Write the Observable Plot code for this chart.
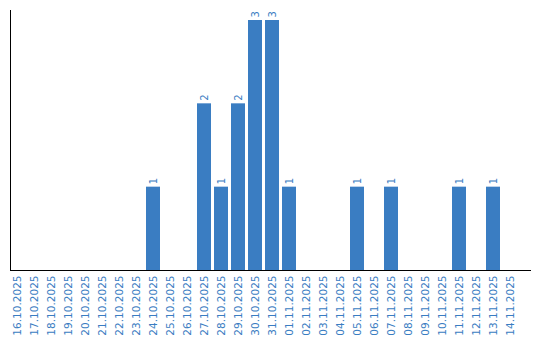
<!DOCTYPE html>
<html>
<head>
<meta charset="utf-8">
<script src="https://cdn.jsdelivr.net/npm/d3@7"></script>
<script src="https://cdn.jsdelivr.net/npm/@observablehq/plot@0.6"></script>
<style>
  html, body { margin: 0; padding: 0; background: #fff; }
  #chart svg { display: block; }
</style>
</head>
<body>
<div id="chart"></div>
<script>
const dates = ["16.10.2025","17.10.2025","18.10.2025","19.10.2025","20.10.2025","21.10.2025","22.10.2025","23.10.2025","24.10.2025","25.10.2025","26.10.2025","27.10.2025","28.10.2025","29.10.2025","30.10.2025","31.10.2025","01.11.2025","02.11.2025","03.11.2025","04.11.2025","05.11.2025","06.11.2025","07.11.2025","08.11.2025","09.11.2025","10.11.2025","11.11.2025","12.11.2025","13.11.2025","14.11.2025"];
const counts = [0,0,0,0,0,0,0,0,1,0,0,2,1,2,3,3,1,0,0,0,1,0,1,0,0,0,1,0,1,0];

const data = dates.map((d, i) => ({date: d, count: counts[i]}));
const nonzero = data.filter(d => d.count > 0);
const blue = "#3a7dc2";

const chart = Plot.plot({
  width: 540,
  height: 340,
  marginTop: 10,
  marginLeft: 10,
  marginRight: 9,
  marginBottom: 70,
  style: {fontFamily: "DejaVu Sans, sans-serif", fontSize: "10px", background: "#fff"},
  x: {type: "band", domain: dates, range: [10, 517], paddingInner: 3/17, paddingOuter: 0, align: 0, axis: null},
  y: {domain: [0, 3.12], axis: null},
  marks: [
    Plot.barY(nonzero, {x: "date", y: "count", fill: blue}),
    Plot.text(nonzero, {x: "date", y: "count", text: d => String(d.count), rotate: -90, textAnchor: "start", dy: -3, fill: blue, fontSize: 10}),
    Plot.axisX({tickRotate: -90, tickSize: 0, tickPadding: 5, color: blue, fontSize: 10.5, label: null}),
    Plot.frame({anchor: "left", stroke: "#000"}),
    Plot.ruleY([0], {stroke: "#000"})
  ]
});
document.getElementById("chart").appendChild(chart);
</script>
</body>
</html>
